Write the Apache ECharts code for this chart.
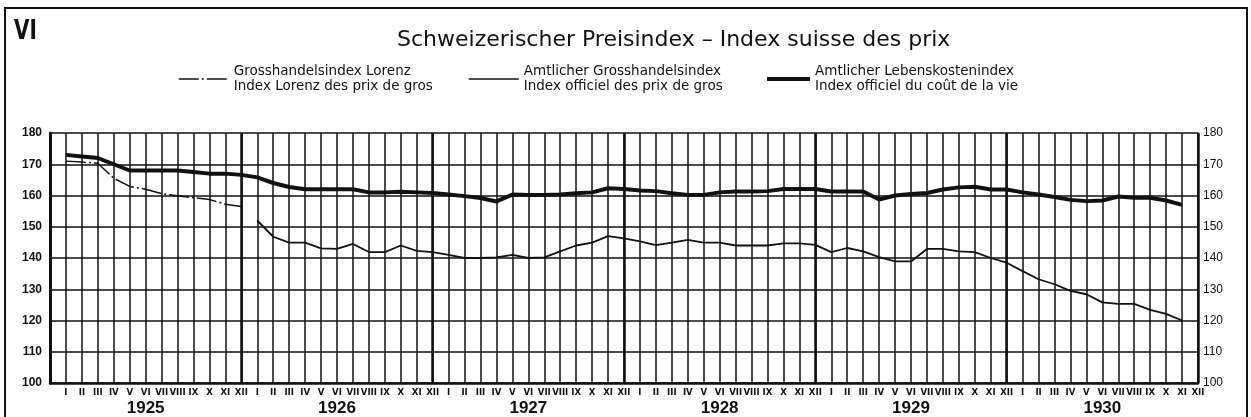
<!DOCTYPE html>
<html>
<head>
<meta charset="utf-8">
<title>Schweizerischer Preisindex</title>
<script src="https://cdn.jsdelivr.net/npm/echarts@6/dist/echarts.min.js"></script>
<style>
    html, body { margin: 0; padding: 0; background: #fff; }
    #chart { width: 1251px; height: 417px; }
</style>
</head>
<body>
<div id="chart"></div>
<script>
// Data
// ------------------------------

var years = ['1925', '1926', '1927', '1928', '1929', '1930'];
var months = ['I', 'II', 'III', 'IV', 'V', 'VI', 'VII', 'VIII', 'IX', 'X', 'XI', 'XII'];

var seriesNames = ['Grosshandelsindex Lorenz', 'Amtlicher Grosshandelsindex', 'Amtlicher Lebenskostenindex'];
var seriesNamesFr = ['Index Lorenz des prix de gros', 'Index officiel des prix de gros', 'Index officiel du coût de la vie'];

// Grosshandelsindex Lorenz, I-XII 1925
var lorenz = [171, 170.7, 170.3, 165.5, 162.9, 162, 160.6, 159.9, 159.3, 158.7, 157.2, 156.5];

// Amtlicher Grosshandelsindex, I 1926 - XI 1930
var grosshandel = [
    152, 146.8, 144.9, 144.9, 143.1, 142.9, 144.5, 141.9, 141.9, 144, 142.3, 141.9,
    141, 140, 140, 140.2, 141, 140, 140.2, 142.1, 144, 144.9, 147, 146.3,
    145.3, 144.1, 144.9, 145.8, 144.9, 144.9, 144, 144, 144, 144.7, 144.7, 144.2,
    141.9, 143.2, 142.1, 140.3, 138.9, 138.9, 142.9, 142.9, 142.1, 141.9, 140, 138.5,
    135.8, 133.2, 131.6, 129.5, 128.4, 125.8, 125.3, 125.3, 123.4, 122.1, 120
];

// Amtlicher Lebenskostenindex, I 1925 - XI 1930
var lebenskosten = [
    173, 172.5, 172, 170, 168, 168, 168, 168, 167.5, 167, 167, 166.6,
    165.8, 164, 162.7, 162, 162, 162, 162, 161, 161, 161.2, 161, 160.8,
    160.3, 159.8, 159.2, 158.1, 160.3, 160.2, 160.2, 160.3, 160.7, 161, 162.3, 162.1,
    161.6, 161.4, 160.7, 160.2, 160.2, 161, 161.3, 161.3, 161.4, 162.1, 162.1, 162.1,
    161.3, 161.3, 161.3, 158.7, 160, 160.5, 160.8, 161.9, 162.6, 162.8, 161.9, 161.9,
    161, 160.3, 159.5, 158.6, 158.2, 158.4, 159.7, 159.3, 159.3, 158.4, 157
];

// Build month axis (one blank slot before I 1925)
var monthAxis = [''];
for (var y = 0; y < years.length; y++) {
    for (var m = 0; m < months.length; m++) {
        monthAxis.push(months[m]);
    }
}

function pad(values, before) {
    var out = [];
    for (var i = 0; i < before; i++) out.push(null);
    return out.concat(values);
}

var lorenzData = pad(lorenz, 1);
var grosshandelData = pad(grosshandel, 13);
var lebenskostenData = pad(lebenskosten, 1);

// Initialize chart
// ------------------------------

var chart = echarts.init(document.getElementById('chart'));

var labelFont = "'Liberation Sans', Arial, sans-serif";
var condFont = "'DejaVu Sans Condensed', sans-serif";
var textFont = "'DejaVu Sans', sans-serif";

function legendItem(i, left, iconWidth, lineWidth) {
    return {
        data: [seriesNames[i]],
        left: left,
        top: 64,
        padding: 0,
        itemWidth: iconWidth,
        itemHeight: 10,
        selectedMode: false,
        itemStyle: { opacity: 0 },
        lineStyle: { width: lineWidth },
        formatter: function (name) {
            return name + '\n' + seriesNamesFr[i];
        },
        textStyle: {
            color: '#111',
            fontFamily: textFont,
            fontSize: 13.5,
            lineHeight: 15
        }
    };
}

var options = {
    animation: false,
    backgroundColor: '#fff',

    title: {
        text: 'Schweizerischer Preisindex – Index suisse des prix',
        left: 397,
        top: 29,
        padding: 0,
        textStyle: {
            color: '#111',
            fontFamily: textFont,
            fontWeight: 'normal',
            fontSize: 22
        }
    },

    legend: [
        legendItem(0, 178, 50, 1.5),
        legendItem(1, 468, 50, 1.5),
        legendItem(2, 765, 43, 4)
    ],

    graphic: [
        {
            type: 'rect',
            shape: { x: 5, y: 8, width: 1242, height: 440 },
            style: { fill: 'none', stroke: '#111', lineWidth: 2 },
            silent: true
        },
        {
            type: 'text',
            left: 14,
            top: 19,
            scaleX: 0.85,
            style: {
                text: 'VI',
                fill: '#111',
                font: "bold 26px 'DejaVu Sans Condensed', sans-serif"
            }
        }
    ],

    grid: {
        left: 50,
        right: 53,
        top: 133,
        bottom: 30
    },

    xAxis: [
        {
            type: 'category',
            data: monthAxis,
            boundaryGap: false,
            axisLine: { lineStyle: { color: '#111', width: 2.5 } },
            axisTick: { show: false },
            axisLabel: {
                interval: 0,
                margin: 5,
                color: '#111',
                fontFamily: condFont,
                fontWeight: 'bold',
                fontSize: 9.5
            },
            splitLine: {
                show: true,
                interval: 0,
                lineStyle: { color: '#111', width: 1.5 }
            }
        },
        {
            type: 'category',
            data: years,
            boundaryGap: true,
            position: 'bottom',
            axisLine: { show: false },
            axisTick: { show: false },
            axisLabel: {
                margin: 17,
                color: '#111',
                fontFamily: labelFont,
                fontWeight: 'bold',
                fontSize: 17
            },
            splitLine: {
                show: true,
                lineStyle: { color: '#111', width: 2.5 }
            }
        }
    ],

    yAxis: [
        {
            type: 'value',
            min: 100,
            max: 180,
            interval: 10,
            position: 'left',
            axisLine: { show: true, lineStyle: { color: '#111', width: 3 } },
            axisTick: { show: false },
            axisLabel: {
                margin: 8,
                color: '#111',
                fontFamily: labelFont,
                fontWeight: 'bold',
                fontSize: 12
            },
            splitLine: { lineStyle: { color: '#111', width: 1.5 } }
        },
        {
            type: 'value',
            min: 100,
            max: 180,
            interval: 10,
            position: 'right',
            axisLine: { show: true, lineStyle: { color: '#111', width: 1.5 } },
            axisTick: { show: false },
            axisLabel: {
                margin: 5,
                color: '#111',
                fontFamily: labelFont,
                fontSize: 12
            },
            splitLine: { show: false }
        }
    ],

    series: [
        {
            name: seriesNames[0],
            type: 'line',
            data: lorenzData,
            symbol: 'none',
            itemStyle: { color: '#111' },
            lineStyle: { color: '#111', width: 1.5, type: [20, 3, 2, 3] }
        },
        {
            name: seriesNames[1],
            type: 'line',
            data: grosshandelData,
            symbol: 'none',
            itemStyle: { color: '#111' },
            lineStyle: { color: '#111', width: 1.8 }
        },
        {
            name: seriesNames[2],
            type: 'line',
            data: lebenskostenData,
            symbol: 'none',
            itemStyle: { color: '#111' },
            lineStyle: { color: '#111', width: 4 }
        }
    ]
};

chart.setOption(options);
</script>
</body>
</html>
